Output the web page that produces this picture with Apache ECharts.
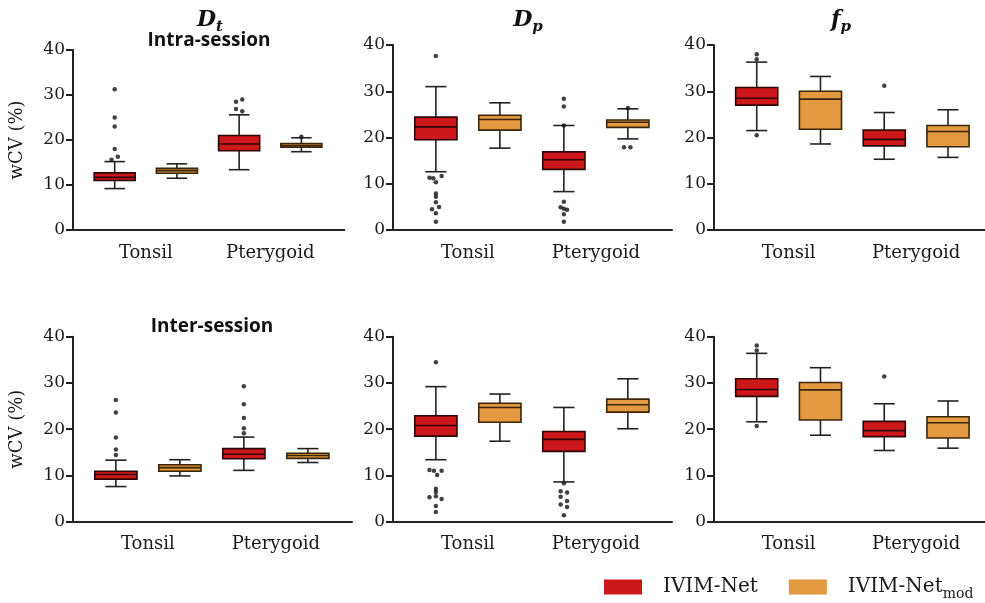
<!DOCTYPE html>
<html>
<head>
<meta charset="utf-8">
<script src="https://cdn.jsdelivr.net/npm/echarts@6/dist/echarts.min.js"></script>
<style>
html,body{margin:0;padding:0;background:#fff;}
#chart{width:985px;height:603px;}
</style>
</head>
<body>
<div id="chart"></div>
<script>
// ---------- data ----------
const categories = ['Tonsil', 'Pterygoid'];
const seriesNames = ['IVIM-Net', 'IVIM-Net_mod'];
const yMin = 0, yMax = 40, yInterval = 10;
const yAxisName = 'wCV (%)';
const panelTitles = ['D|t', 'D|p', 'f|p'];
const rowTitles = ['Intra-session', 'Inter-session'];

// box stats per category: [low whisker, Q1, median, Q3, high whisker]
const dtIntraNet = [[9.2, 11.0, 11.7, 12.7, 15.2], [13.4, 17.6, 19.1, 21.0, 25.6]];
const dtIntraMod = [[11.5, 12.6, 13.2, 13.7, 14.7], [17.4, 18.4, 18.7, 19.2, 20.5]];
const dpIntraNet = [[12.6, 19.5, 22.3, 24.4, 31.0], [8.3, 13.1, 15.2, 16.9, 22.6]];
const dpIntraMod = [[17.7, 21.6, 23.9, 24.8, 27.5], [19.7, 22.2, 23.3, 23.8, 26.2]];
const fpIntraNet = [[21.5, 27.0, 28.5, 30.8, 36.3], [15.3, 18.2, 19.6, 21.6, 25.4]];
const fpIntraMod = [[18.6, 21.8, 28.3, 30.0, 33.2], [15.7, 18.0, 21.3, 22.6, 26.0]];
const dtInterNet = [[7.6, 9.2, 10.2, 10.9, 13.3], [11.1, 13.6, 14.6, 15.8, 18.3]];
const dtInterMod = [[9.9, 10.9, 11.7, 12.3, 13.4], [12.8, 13.7, 14.3, 14.8, 15.8]];
const dpInterNet = [[13.4, 18.5, 20.8, 22.9, 29.2], [8.6, 15.2, 17.8, 19.5, 24.7]];
const dpInterMod = [[17.4, 21.5, 24.7, 25.6, 27.6], [20.1, 23.7, 25.3, 26.5, 30.9]];
const fpInterNet = [[21.6, 27.1, 28.6, 30.9, 36.4], [15.4, 18.4, 19.7, 21.7, 25.5]];
const fpInterMod = [[18.7, 22.0, 28.5, 30.1, 33.3], [15.9, 18.1, 21.4, 22.7, 26.1]];

// outliers: [category index, value, horizontal jitter]
const dtIntraNetOut = [[0,31.3,0],[0,25.0,0],[0,23.0,0],[0,18.0,0],[0,16.3,0.05],[0,15.6,-0.05],[1,29.0,0.05],[1,28.5,-0.05],[1,26.9,-0.05],[1,26.4,0.05]];
const dtIntraModOut = [[1,20.7,0]];
const dpIntraNetOut = [[0,37.6,0],[0,11.3,-0.1],[0,11.2,-0.04],[0,10.3,0],[0,11.7,0.09],[0,7.9,0],[0,7.2,0],[0,6.0,0],[0,5.0,0.05],[0,4.5,-0.06],[0,3.6,0],[0,1.8,0],[1,28.4,0],[1,26.7,0],[1,22.6,0],[1,6.1,0],[1,4.9,-0.05],[1,4.6,0],[1,4.4,0.05],[1,3.4,0],[1,1.8,0]];
const dpIntraModOut = [[1,26.4,0],[1,17.9,-0.06],[1,17.9,0.04]];
const fpIntraNetOut = [[0,38.0,0],[0,36.9,0],[0,20.5,0],[1,31.2,0]];
const fpIntraModOut = [];
const dtInterNetOut = [[0,26.3,0],[0,23.6,0],[0,18.2,0],[0,15.6,0],[0,14.4,0],[1,29.3,0],[1,25.4,0],[1,22.4,0],[1,20.2,0],[1,19.1,0]];
const dtInterModOut = [];
const dpInterNetOut = [[0,34.5,0],[0,11.2,-0.1],[0,11.0,-0.03],[0,10.1,0.02],[0,11.0,0.09],[0,7.1,0],[0,6.4,0],[0,5.5,0],[0,5.3,-0.1],[0,4.9,0.09],[0,3.4,0],[0,2.1,0],[1,8.3,0],[1,6.6,-0.05],[1,6.3,0.05],[1,5.4,-0.05],[1,4.5,0.05],[1,3.7,-0.05],[1,3.2,0.05],[1,1.4,0]];
const dpInterModOut = [];
const fpInterNetOut = [[0,38.1,0],[0,37.0,0],[0,20.7,0],[1,31.4,0]];
const fpInterModOut = [];

// ---------- layout / style ----------
const fills = ['#cc171b', '#e3993f'];
const borders = ['#2e0606', '#3a2608'];
const inkColor = '#1a1a1a';
const serif = 'DejaVu Serif';

const panels = [
  {net: dtIntraNet, mod: dtIntraMod, netOut: dtIntraNetOut, modOut: dtIntraModOut, grid: {left: 73, top: 50, width: 271.3, height: 180}, yName: true},
  {net: dpIntraNet, mod: dpIntraMod, netOut: dpIntraNetOut, modOut: dpIntraModOut, grid: {left: 393, top: 45, width: 279, height: 185}, yName: false},
  {net: fpIntraNet, mod: fpIntraMod, netOut: fpIntraNetOut, modOut: fpIntraModOut, grid: {left: 714, top: 45, width: 278, height: 185}, yName: false},
  {net: dtInterNet, mod: dtInterMod, netOut: dtInterNetOut, modOut: dtInterModOut, grid: {left: 73, top: 336.7, width: 279, height: 185}, yName: true},
  {net: dpInterNet, mod: dpInterMod, netOut: dpInterNetOut, modOut: dpInterModOut, grid: {left: 393, top: 336.7, width: 279, height: 185}, yName: false},
  {net: fpInterNet, mod: fpInterMod, netOut: fpInterNetOut, modOut: fpInterModOut, grid: {left: 714, top: 336.7, width: 278, height: 185}, yName: false}
];

const nSeries = seriesNames.length;
const slotMin = -0.67, slotMax = 3.69;
const labelSlots = categories.map((c, i) => i * nSeries + (nSeries - 1) / 2);

function makeRender(sIdx) {
  return function (params, api) {
    const x = api.value(0);
    const lo = api.coord([x, api.value(1)]);
    const q1 = api.coord([x, api.value(2)]);
    const md = api.coord([x, api.value(3)]);
    const q3 = api.coord([x, api.value(4)]);
    const hi = api.coord([x, api.value(5)]);
    const unit = api.size([1, 0])[0];
    const bw = unit * 0.66, cw = unit * 0.33;
    const cx = md[0];
    const ws = {stroke: '#222', lineWidth: 1.6};
    return {
      type: 'group',
      children: [
        {type: 'line', shape: {x1: cx, y1: hi[1], x2: cx, y2: lo[1]}, style: ws},
        {type: 'line', shape: {x1: cx - cw / 2, y1: hi[1], x2: cx + cw / 2, y2: hi[1]}, style: ws},
        {type: 'line', shape: {x1: cx - cw / 2, y1: lo[1], x2: cx + cw / 2, y2: lo[1]}, style: ws},
        {type: 'rect', shape: {x: cx - bw / 2, y: q3[1], width: bw, height: q1[1] - q3[1]},
          style: {fill: fills[sIdx], stroke: borders[sIdx], lineWidth: 1.6}},
        {type: 'line', shape: {x1: cx - bw / 2, y1: md[1], x2: cx + bw / 2, y2: md[1]},
          style: {stroke: borders[sIdx], lineWidth: 1.6}}
      ]
    };
  };
}

const grids = [], xAxes = [], yAxes = [], series = [];
panels.forEach((p, pi) => {
  grids.push(Object.assign({containLabel: false, outerBoundsMode: 'none'}, p.grid));
  xAxes.push({
    type: 'value', gridIndex: pi, min: slotMin, max: slotMax,
    axisLine: {show: true, onZero: false, lineStyle: {color: '#222', width: 2}},
    axisTick: {show: false}, splitLine: {show: false},
    axisLabel: {
      customValues: labelSlots, margin: 14,
      formatter: v => categories[Math.round((v - (nSeries - 1) / 2) / nSeries)] || '',
      fontFamily: serif, fontSize: 18, color: inkColor
    }
  });
  yAxes.push({
    type: 'value', gridIndex: pi, min: yMin, max: yMax, interval: yInterval,
    axisLine: {show: true, onZero: false, lineStyle: {color: '#222', width: 2}},
    axisTick: {show: true, length: 7, lineStyle: {color: '#222', width: 2}},
    splitLine: {show: false},
    axisLabel: {fontFamily: serif, fontSize: 17, color: inkColor, margin: 8},
    name: p.yName ? yAxisName : '', nameLocation: 'middle', nameGap: 47,
    nameTextStyle: {fontFamily: serif, fontSize: 18, color: inkColor}
  });
  [p.net, p.mod].forEach((stats, sIdx) => {
    series.push({
      type: 'custom', name: seriesNames[sIdx], xAxisIndex: pi, yAxisIndex: pi,
      itemStyle: {color: fills[sIdx]},
      renderItem: makeRender(sIdx),
      encode: {x: 0, y: [1, 2, 3, 4, 5]},
      data: stats.map((s, ci) => [ci * nSeries + sIdx].concat(s)),
      z: 2
    });
  });
  const outs = [];
  [p.netOut, p.modOut].forEach((list, sIdx) => {
    list.forEach(o => outs.push([o[0] * nSeries + sIdx + o[2], o[1]]));
  });
  series.push({
    type: 'scatter', name: 'outliers', xAxisIndex: pi, yAxisIndex: pi,
    symbol: 'circle', symbolSize: 4.5, itemStyle: {color: '#111'}, data: outs, z: 3
  });
});

const subRich = {
  m: {fontFamily: serif, fontStyle: 'italic', fontWeight: 'bold', fontSize: 22, lineHeight: 30, color: '#111'},
  s: {fontFamily: serif, fontStyle: 'italic', fontWeight: 'bold', fontSize: 15, lineHeight: 15, verticalAlign: 'bottom', color: '#111'}
};
const titleCenters = [210, 528, 841];
const titles = panelTitles.map((t, i) => {
  const parts = t.split('|');
  return {text: '{m|' + parts[0] + '}{s|' + parts[1] + '}', left: titleCenters[i], top: 5, textAlign: 'center',
    textStyle: {rich: subRich}, padding: 0};
});
titles.push({text: rowTitles[0], left: 209, top: 30, textAlign: 'center', padding: 0,
  textStyle: {fontFamily: 'Open Sans', fontWeight: 'bold', fontSize: 19, lineHeight: 22, color: '#111'}});
titles.push({text: rowTitles[1], left: 212, top: 316, textAlign: 'center', padding: 0,
  textStyle: {fontFamily: 'Open Sans', fontWeight: 'bold', fontSize: 19, lineHeight: 22, color: '#111'}});

const option = {
  animation: false,
  backgroundColor: '#fff',
  title: titles,
  legend: {
    data: seriesNames, left: 604, top: 577, icon: 'rect', itemWidth: 38, itemHeight: 15, itemGap: 31,
    padding: 0, itemStyle: {borderWidth: 0},
    formatter: name => {
      const parts = name.split('_');
      return '{a|' + parts[0] + '}' + (parts[1] ? '{b|' + parts[1] + '}' : '');
    },
    textStyle: {
      rich: {
        a: {fontFamily: serif, fontSize: 20, lineHeight: 28, color: inkColor, padding: [0, 0, 0, 16]},
        b: {fontFamily: serif, fontSize: 14, lineHeight: 14, verticalAlign: 'bottom', color: inkColor}
      }
    }
  },
  grid: grids,
  xAxis: xAxes,
  yAxis: yAxes,
  series: series
};

const chart = echarts.init(document.getElementById('chart'), null, {renderer: 'canvas'});
chart.setOption(option);
</script>
</body>
</html>
